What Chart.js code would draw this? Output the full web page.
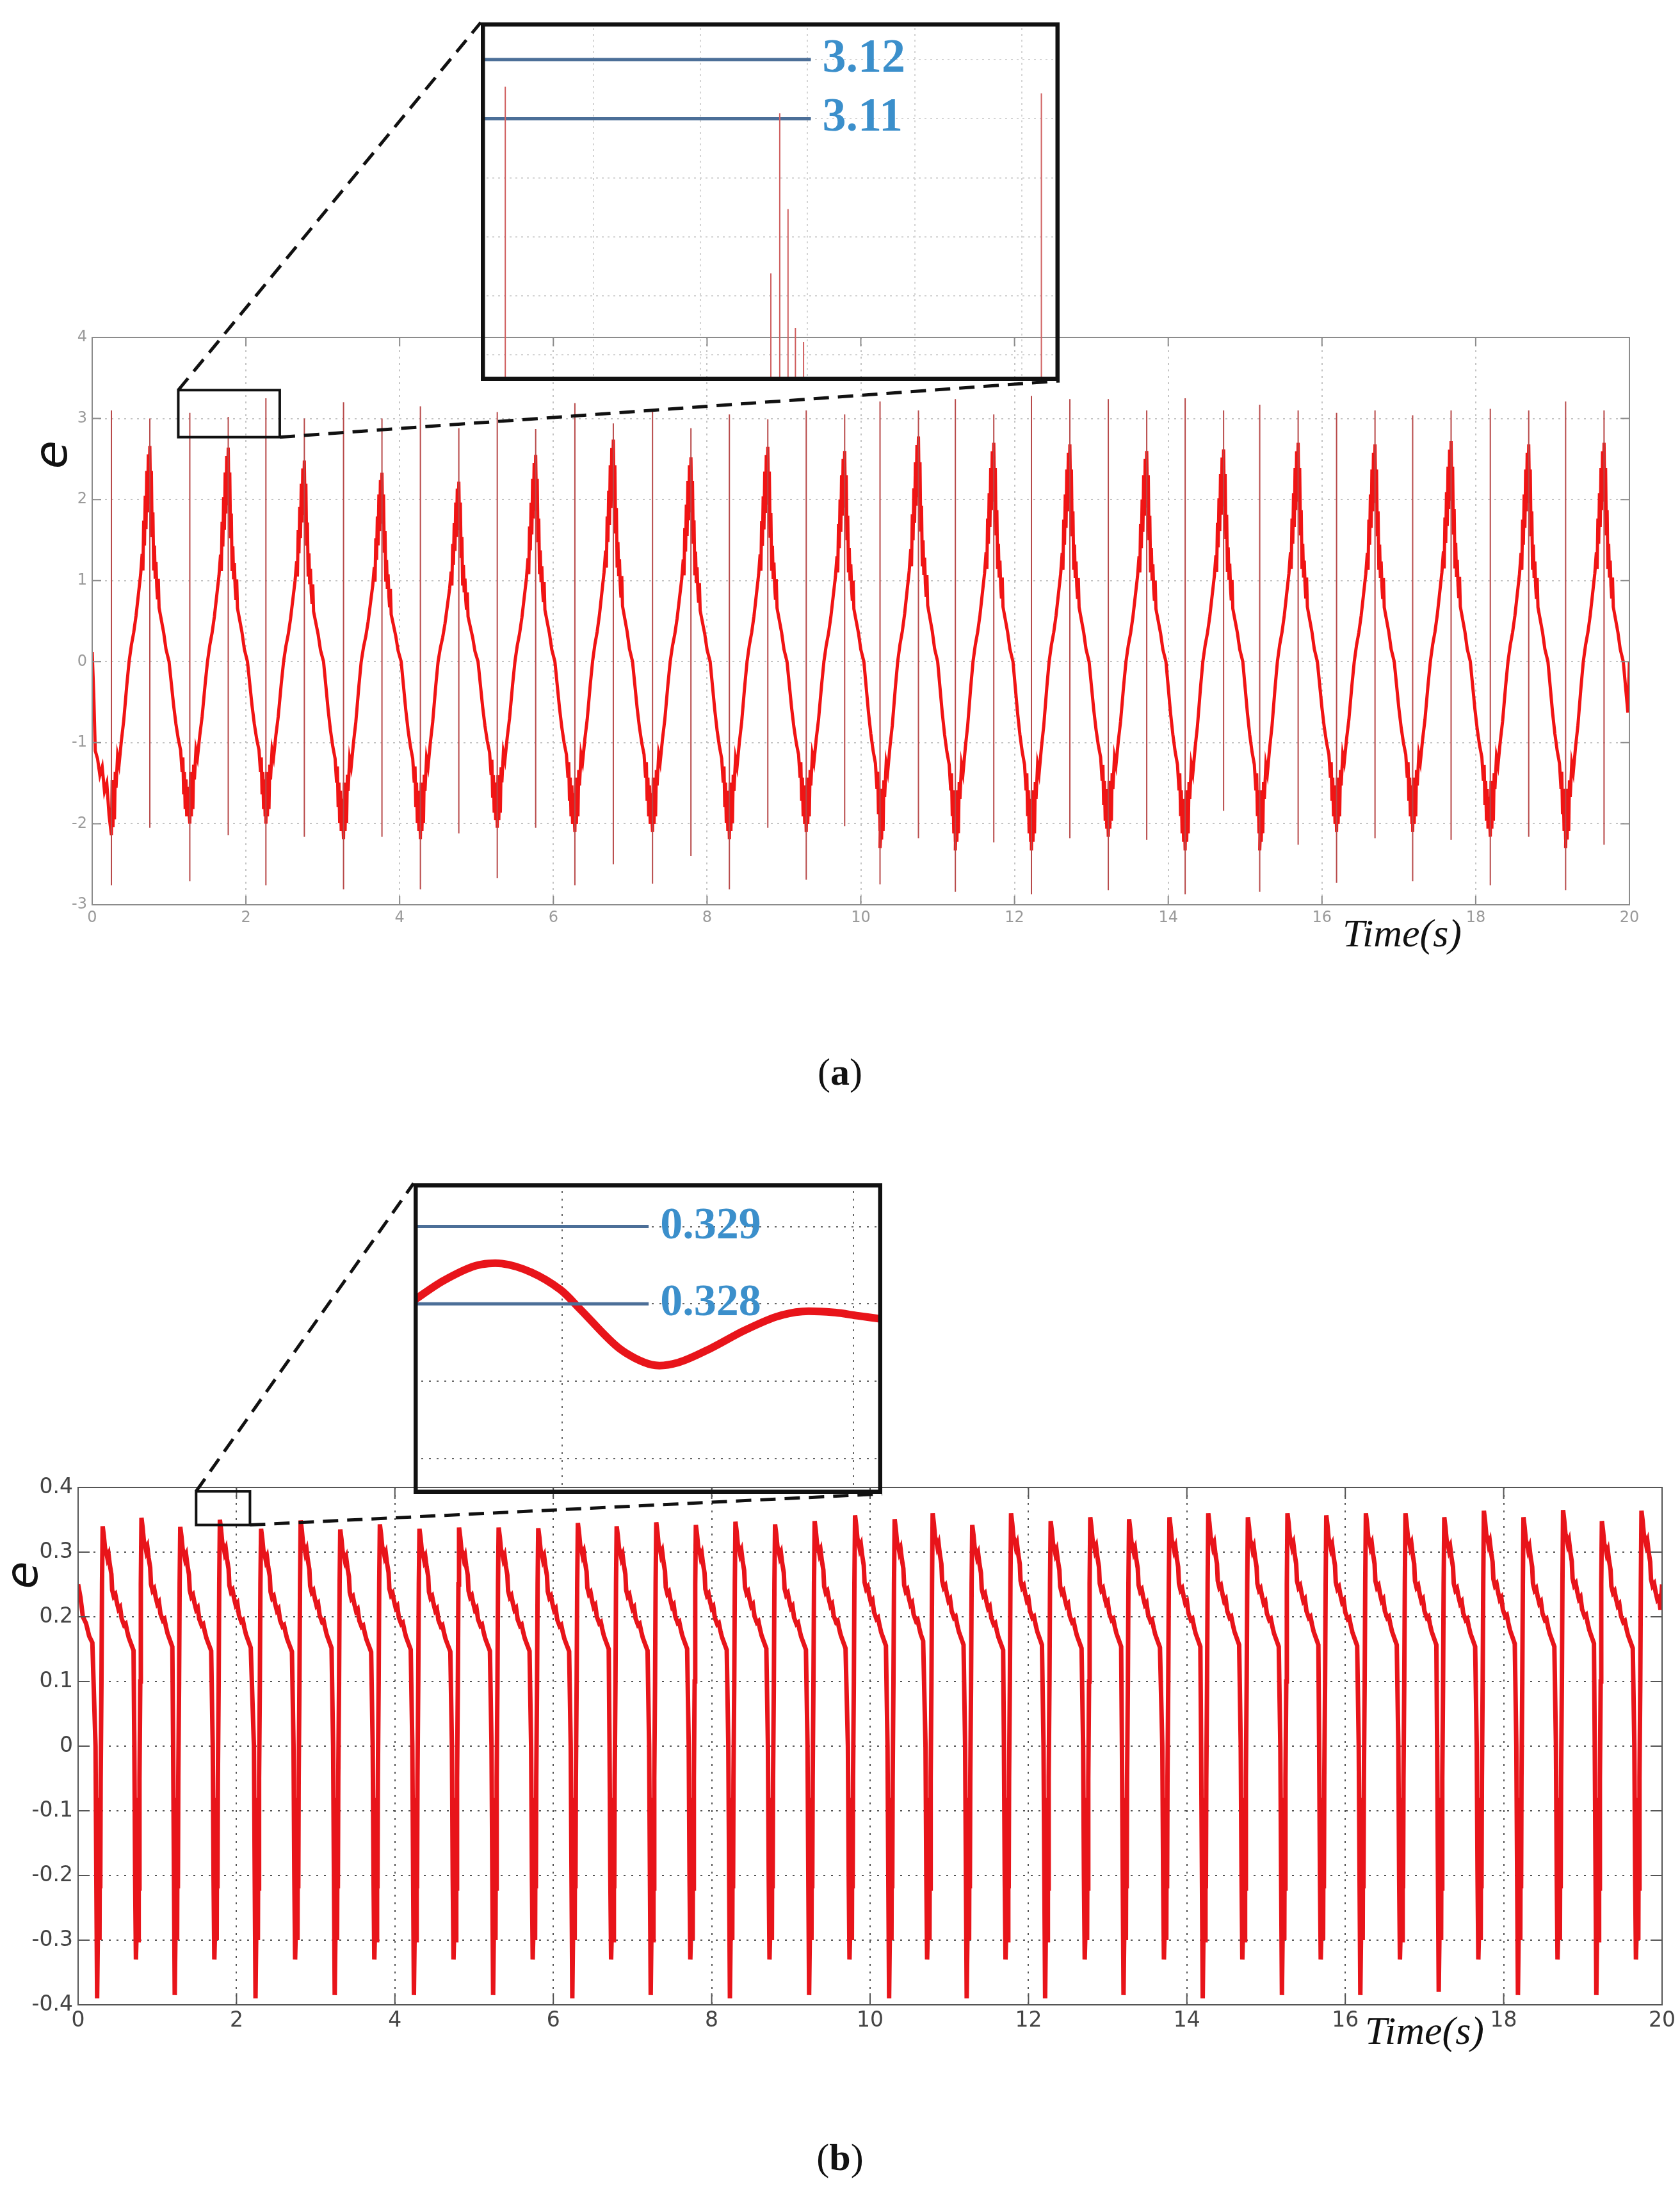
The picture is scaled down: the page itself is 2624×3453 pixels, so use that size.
<!DOCTYPE html>
<html>
<head>
<meta charset="utf-8">
<script src="https://cdn.jsdelivr.net/npm/chart.js@4.4.0/dist/chart.umd.min.js"></script>
<style>
  body { margin: 0; background: #fff; width: 2624px; height: 3453px; position: relative; overflow: hidden; }
  .box { position: absolute; }
  .cap { position: absolute; font-family: "Liberation Serif", serif; font-size: 60px; color: #111; transform: translateX(-50%); }
</style>
</head>
<body>
<div class="box" style="left:0;top:0;width:2624px;height:1550px"><canvas id="mainA"></canvas></div>
<div class="box" style="left:751px;top:35px;width:904px;height:560px"><canvas id="zoomA"></canvas></div>
<div class="cap" style="left:1312px;top:1640px">(<b>a</b>)</div>
<div class="box" style="left:0;top:1700px;width:2624px;height:1550px"><canvas id="mainB"></canvas></div>
<div class="box" style="left:646px;top:1848px;width:732px;height:485px"><canvas id="zoomB"></canvas></div>
<div class="cap" style="left:1312px;top:3335px">(<b>b</b>)</div>
<script>
// ---------- (a) data ----------
const peakTimesA = [0.75,1.77,2.76,3.77,4.77,5.77,6.78,7.79,8.79,9.79,10.75,11.73,12.72,13.72,14.72,15.69,16.69,17.68,18.69,19.67];
const peakValsA = [2.66,2.64,2.48,2.33,2.22,2.55,2.74,2.52,2.65,2.6,2.78,2.7,2.68,2.6,2.62,2.7,2.68,2.72,2.68,2.7];
const valleyValsA = [-2.14,-2.0,-2.0,-2.19,-2.19,-2.05,-2.1,-2.1,-2.19,-2.1,-2.3,-2.33,-2.33,-2.16,-2.33,-2.33,-2.1,-2.1,-2.16,-2.3];
// one cycle, offsets from the peak, typical peak 2.6 / valley -2.2
const cycleDtA = [-0.5,-0.49,-0.48,-0.47,-0.46,-0.45,-0.44,-0.42,-0.4,-0.37,-0.34,-0.3,-0.27,-0.24,-0.21,-0.18,-0.15,-0.12,-0.1,-0.09,-0.08,-0.07,-0.06,-0.05,-0.04,-0.03,-0.02,-0.01,0,0.01,0.02,0.03,0.04,0.05,0.06,0.07,0.08,0.09,0.1,0.11,0.12,0.15,0.18,0.21,0.25,0.28,0.31,0.34,0.37,0.4,0.42,0.43,0.44,0.45,0.46,0.47,0.48,0.49];
const cycleValA = [-2.2,-1.5,-2.1,-1.6,-2.0,-1.4,-1.6,-1.2,-1.3,-1.0,-0.75,-0.3,0.0,0.2,0.35,0.55,0.8,1.05,1.3,1.1,1.7,1.4,2.0,1.6,2.3,1.8,2.5,2.0,2.6,1.9,2.3,1.5,1.8,1.1,1.4,1.0,1.2,0.9,0.75,1.0,0.65,0.5,0.35,0.15,0.0,-0.3,-0.6,-0.85,-1.05,-1.2,-1.5,-1.3,-1.8,-1.5,-2.0,-1.6,-2.1,-1.7];
const headA = [[0,0.12],[0.02,-0.4],[0.04,-1.1],[0.07,-1.2],[0.1,-1.4],[0.13,-1.3],[0.16,-1.6],[0.19,-1.5],[0.22,-1.9]];
const spikeTopA = [3.1,3.0,3.07,3.02,3.25,3.0,3.2,3.0,3.15,2.88,3.08,2.87,3.19,2.94,3.09,2.88,3.05,2.99,3.1,3.05,
                   3.21,3.1,3.24,3.05,3.28,3.24,3.24,3.1,3.25,3.1,3.17,3.1,3.07,3.1,3.04,3.1,3.12,3.1,3.21,3.1];
const spikeLowA = [-2.76,-2.05,-2.71,-2.14,-2.76,-2.16,-2.81,-2.16,-2.81,-2.12,-2.67,-2.05,-2.76,-2.5,-2.74,-2.4,-2.81,-2.05,-2.69,-2.03,
                   -2.75,-2.18,-2.84,-2.23,-2.87,-2.18,-2.82,-2.2,-2.87,-1.84,-2.84,-2.26,-2.73,-2.18,-2.71,-2.2,-2.76,-2.16,-2.82,-2.26];
// inset (a)
const zoomSpikeX = [-0.82,1.657,1.74,1.817,1.886,1.962,2.03,4.18];
const zoomSpikeTop = [3.1154,3.0838,3.1109,3.0947,3.0746,3.0722,3.066,3.1143];
const zoomLevelsA = [3.12, 3.11];

// ---------- (b) data ----------
const peakTimesB = [0.31,0.80,1.29,1.79,2.31,2.81,3.31,3.81,4.31,4.81,5.31,5.81,6.31,6.80,7.30,7.80,8.30,8.80,9.30,9.81,
                    10.31,10.79,11.29,11.78,12.28,12.78,13.27,13.78,14.27,14.77,15.27,15.76,16.26,16.76,17.25,17.75,18.25,18.75,19.24,19.74];
const peakValsB = [0.34,0.353,0.339,0.35,0.336,0.349,0.335,0.343,0.336,0.338,0.338,0.337,0.345,0.34,0.346,0.342,0.347,0.343,0.348,0.357,
                   0.351,0.36,0.342,0.36,0.348,0.354,0.351,0.354,0.36,0.354,0.36,0.357,0.36,0.36,0.354,0.364,0.354,0.365,0.348,0.364];
const troughValsB = [-0.39,-0.33,-0.385,-0.33,-0.39,-0.33,-0.385,-0.33,-0.385,-0.33,-0.385,-0.33,-0.39,-0.33,-0.385,-0.33,-0.39,-0.33,-0.385,-0.33,
                     -0.39,-0.33,-0.39,-0.33,-0.39,-0.33,-0.385,-0.33,-0.39,-0.33,-0.385,-0.33,-0.385,-0.33,-0.38,-0.33,-0.385,-0.33,-0.385,-0.33];
const decayDtB = [0,0.015,0.03,0.045,0.06,0.075,0.09,0.11,0.12,0.14,0.16,0.18,0.2,0.22,0.24,0.27,0.29,0.31,0.33,0.36,0.39];
const decayValB = [0.345,0.33,0.31,0.305,0.295,0.3,0.285,0.27,0.245,0.235,0.238,0.225,0.215,0.218,0.2,0.19,0.192,0.18,0.17,0.16,0.15];
const dropDtB = [-0.09,-0.08,-0.07,-0.06,-0.055,-0.05,-0.045,-0.04,-0.035,-0.03,-0.025,-0.015,-0.008];
const dropValB = [0.0,-0.2,null,-0.28,-0.1,-0.28,-0.08,-0.3,-0.1,-0.22,-0.05,0.1,0.25]; // null = trough of that cycle
const headB = [[0,0.25],[0.03,0.23],[0.06,0.2],[0.1,0.19],[0.14,0.17],[0.18,0.16]];
// inset (b)
const zoomCurveX = [-0.51,-0.409,-0.297,-0.207,-0.106,-0.006,0.062,0.196,0.308,0.398,0.51,0.622,0.734,0.824,0.936,1.015,1.099];
const zoomCurveY = [0.328042,0.328296,0.328493,0.328521,0.328408,0.328183,0.32793,0.327423,0.327211,0.327239,0.327423,0.327648,0.327831,0.327901,0.327887,0.327845,0.327803];
const zoomLevelsB = [0.329, 0.328];

// ---------- build series ----------
function buildA() {
  const pts = headA.map(p => ({x: p[0], y: p[1]}));
  peakTimesA.forEach((tp, k) => {
    cycleDtA.forEach((dt, i) => {
      let v = cycleValA[i];
      if (v >= 0) v = v / 2.6 * peakValsA[k];
      else {
        const vv = dt < 0 ? valleyValsA[k] : (valleyValsA[k + 1] || valleyValsA[k]);
        v = v / 2.2 * -vv;
      }
      const x = tp + dt;
      if (x <= 20) pts.push({x: x, y: v});
    });
  });
  pts.push({x: 20, y: 0});
  return pts;
}
function buildSpikesA() {
  const pts = [];
  peakTimesA.forEach((tp, k) => {
    [tp - 0.5, tp].forEach((t, j) => {
      const n = k * 2 + j;
      pts.push({x: t, y: spikeLowA[n]}, {x: t, y: spikeTopA[n]}, {x: t + 0.001, y: null});
    });
  });
  return pts;
}
function buildB() {
  const pts = headB.map(p => ({x: p[0], y: p[1]}));
  peakTimesB.forEach((tp, k) => {
    dropDtB.forEach((dt, i) => {
      pts.push({x: tp + dt, y: dropValB[i] === null ? troughValsB[k] : dropValB[i]});
    });
    const next = peakTimesB[k + 1] || 20.5;
    decayDtB.forEach((dt, i) => {
      const x = tp + dt;
      if (x < next - 0.09 && x <= 20) pts.push({x: x, y: decayValB[i] / 0.345 * peakValsB[k]});
    });
  });
  pts.push({x: 20, y: 0.25});
  return pts;
}

// ---------- plugins ----------
function frameAndTicks(borderColor, tickLen) {
  return {
    id: 'frame',
    afterDraw(chart) {
      const c = chart.ctx, a = chart.chartArea;
      c.save();
      c.setLineDash([]);
      c.strokeStyle = borderColor; c.lineWidth = 2;
      c.strokeRect(a.left, a.top, a.right - a.left, a.bottom - a.top);
      const xs = chart.scales.x, ys = chart.scales.y;
      xs.ticks.forEach(t => {
        const px = xs.getPixelForValue(t.value);
        c.beginPath(); c.moveTo(px, a.bottom); c.lineTo(px, a.bottom - tickLen);
        c.moveTo(px, a.top); c.lineTo(px, a.top + tickLen); c.stroke();
      });
      ys.ticks.forEach(t => {
        const py = ys.getPixelForValue(t.value);
        c.beginPath(); c.moveTo(a.left, py); c.lineTo(a.left + tickLen, py);
        c.moveTo(a.right, py); c.lineTo(a.right - tickLen, py); c.stroke();
      });
      c.restore();
    }
  };
}
function zoomMarker(rect, insetTL, insetBR, eLabel) {
  return {
    id: 'zoomMarker',
    afterDraw(chart) {
      const c = chart.ctx, xs = chart.scales.x, ys = chart.scales.y;
      const x1 = xs.getPixelForValue(rect[0]), x2 = xs.getPixelForValue(rect[1]);
      const y1 = ys.getPixelForValue(rect[3]), y2 = ys.getPixelForValue(rect[2]);
      c.save();
      c.strokeStyle = '#111'; c.lineWidth = 4;
      c.strokeRect(x1, y1, x2 - x1, y2 - y1);
      c.setLineDash([24, 14]); c.lineWidth = 5;
      c.beginPath(); c.moveTo(x1, y1); c.lineTo(insetTL[0], insetTL[1]);
      c.moveTo(x2, y2); c.lineTo(insetBR[0], insetBR[1]); c.stroke();
      c.setLineDash([]);
      // axis letters
      c.fillStyle = '#111';
      c.translate(eLabel[0], eLabel[1]); c.rotate(-Math.PI / 2);
      c.font = 'italic ' + eLabel[2] + 'px "DejaVu Sans"';
      c.textAlign = 'center'; c.textBaseline = 'middle';
      c.fillText('e', 0, 0);
      c.restore();
      c.save();
      c.fillStyle = '#111';
      c.font = 'italic 62px "Liberation Serif"';
      c.textAlign = 'center'; c.textBaseline = 'middle';
      c.fillText('Time(s)', eLabel[3], eLabel[4]);
      c.restore();
    }
  };
}
function insetLabels(levels, xEnd, font) {
  return {
    id: 'insetLabels',
    afterDraw(chart) {
      const c = chart.ctx, xs = chart.scales.x, ys = chart.scales.y;
      c.save();
      c.fillStyle = '#3b8fcb'; c.font = font;
      c.textBaseline = 'middle';
      levels.forEach(l => c.fillText(String(l), xs.getPixelForValue(xEnd) + 18, ys.getPixelForValue(l)));
      c.strokeStyle = '#111'; c.lineWidth = 7;
      c.strokeRect(3, 3, chart.width - 6, chart.height - 6);
      c.restore();
    }
  };
}

function mainOptions(cfg) {
  return {
    responsive: true, maintainAspectRatio: false, animation: false, devicePixelRatio: 1,
    layout: {padding: {left: 0, right: cfg.right, top: cfg.top, bottom: 0}},
    plugins: {legend: {display: false}, tooltip: {enabled: false}},
    elements: {point: {radius: 0}},
    scales: {
      x: {type: 'linear', min: 0, max: 20,
          ticks: {stepSize: 2, color: cfg.tickColor, font: {family: 'DejaVu Sans', size: cfg.tickSize}, padding: 6, maxRotation: 0},
          grid: {color: cfg.gridColor, lineWidth: 2, drawTicks: false},
          border: {display: false, dash: cfg.dash},
          afterFit: s => { s.height = cfg.xh; }},
      y: {type: 'linear', min: cfg.ymin, max: cfg.ymax,
          ticks: {stepSize: cfg.ystep, color: cfg.tickColor, font: {family: 'DejaVu Sans', size: cfg.tickSize}, padding: 8,
                  callback: v => cfg.fmt(v)},
          grid: {color: cfg.gridColor, lineWidth: 2, drawTicks: false},
          border: {display: false, dash: cfg.dash},
          afterFit: s => { s.width = cfg.yw; }}
    }
  };
}
function insetOptions(xr, yr, xticks, yticks, gridColor, dash) {
  const grid = {color: gridColor, lineWidth: 2, drawTicks: false};
  return {
    responsive: true, maintainAspectRatio: false, animation: false, devicePixelRatio: 1,
    layout: {padding: 0},
    plugins: {legend: {display: false}, tooltip: {enabled: false}},
    elements: {point: {radius: 0}},
    scales: {
      x: {type: 'linear', min: xr[0], max: xr[1], afterBuildTicks: s => { s.ticks = xticks.map(v => ({value: v})); },
          ticks: {display: false}, grid: grid, border: {display: false, dash: dash}},
      y: {type: 'linear', min: yr[0], max: yr[1], afterBuildTicks: s => { s.ticks = yticks.map(v => ({value: v})); },
          ticks: {display: false}, grid: grid, border: {display: false, dash: dash}}
    }
  };
}

// ---------- chart (a) ----------
new Chart(document.getElementById('mainA'), {
  type: 'line',
  data: {datasets: [
    {data: buildSpikesA(), borderColor: '#b84a4a', borderWidth: 2, spanGaps: false},
    {data: buildA(), borderColor: '#f01414', borderWidth: 5, spanGaps: true}
  ]},
  options: mainOptions({right: 79, top: 527, xh: 137, yw: 144, ymin: -3, ymax: 4, ystep: 1,
    tickColor: '#9a9a9a', tickSize: 24, gridColor: '#c4c4c4', dash: [3, 7], fmt: v => String(v)}),
  plugins: [frameAndTicks('#8c8c8c', 14), zoomMarker([1.12, 2.44, 2.77, 3.35], [751, 35], [1655, 595], [85, 710, 72, 2190, 1462])]
});

new Chart(document.getElementById('zoomA'), {
  type: 'line',
  data: {datasets: [
    {data: zoomSpikeX.flatMap((x, i) => [{x: x, y: 3.06}, {x: x, y: zoomSpikeTop[i]}, {x: x + 0.001, y: null}]),
     borderColor: '#d06060', borderWidth: 2, spanGaps: false},
    {data: zoomLevelsA.flatMap(l => [{x: -1.1, y: l}, {x: 2.03, y: l}, {x: 2.031, y: null}]),
     borderColor: '#4c6f98', borderWidth: 5, spanGaps: false}
  ]},
  options: insetOptions([-1.048, 4.35], [3.0656, 3.1263], [0, 1, 2, 3, 4], [3.07, 3.08, 3.09, 3.1, 3.11, 3.12], '#d4d4d4', [3, 6]),
  plugins: [insetLabels(zoomLevelsA, 2.03, 'bold 74px "Liberation Serif"')]
});

// ---------- chart (b) ----------
new Chart(document.getElementById('mainB'), {
  type: 'line',
  data: {datasets: [
    {data: buildB(), borderColor: '#e8141a', borderWidth: 7, spanGaps: true}
  ]},
  options: mainOptions({right: 28, top: 623, xh: 119, yw: 122, ymin: -0.4, ymax: 0.4, ystep: 0.1,
    tickColor: '#444', tickSize: 33, gridColor: '#555', dash: [3, 9], fmt: v => (Math.abs(v) < 1e-9 ? '0' : String(Math.round(v * 10) / 10))}),
  plugins: [frameAndTicks('#555', 18), zoomMarker([1.49, 2.17, 0.342, 0.394], [646, 148], [1378, 633], [40, 760, 70, 2225, 1476])]
});

new Chart(document.getElementById('zoomB'), {
  type: 'line',
  data: {datasets: [
    {data: zoomLevelsB.flatMap(l => [{x: -0.6, y: l}, {x: 0.297, y: l}, {x: 0.298, y: null}]),
     borderColor: '#4c6f98', borderWidth: 5, spanGaps: false},
    {data: zoomCurveX.map((x, i) => ({x: x, y: zoomCurveY[i]})), borderColor: '#e8141a', borderWidth: 12, tension: 0.3}
  ]},
  options: insetOptions([-0.51, 1.099], [0.32554, 0.32956], [0, 1], [0.326, 0.327, 0.328, 0.329], '#666', [3, 9]),
  plugins: [insetLabels(zoomLevelsB, 0.297, 'bold 70px "Liberation Serif"')]
});
</script>
</body>
</html>
